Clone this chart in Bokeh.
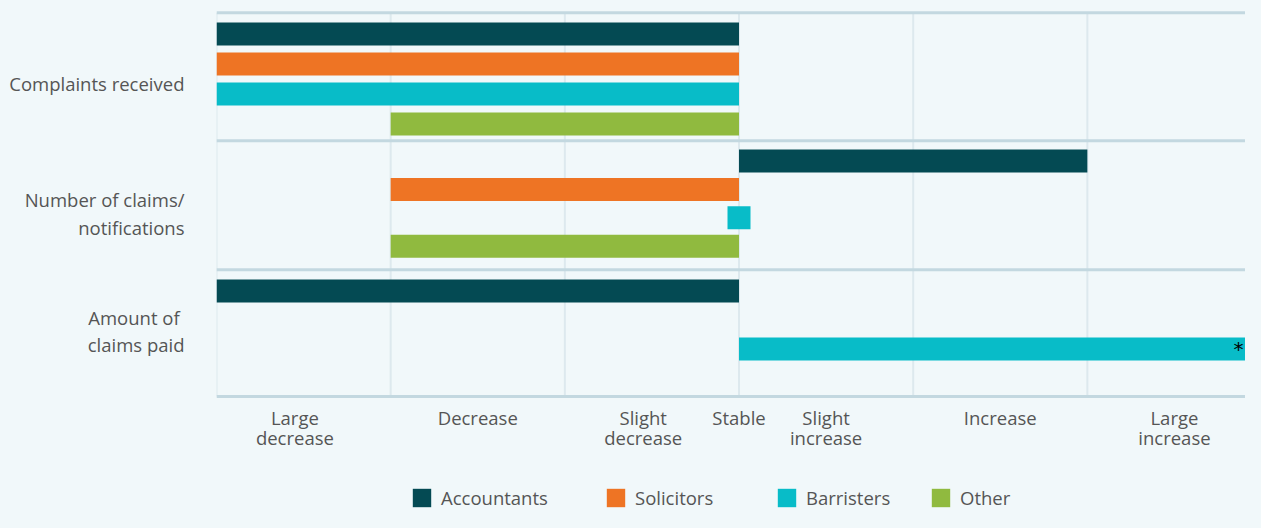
from bokeh.plotting import figure
from bokeh.models import Range1d, FixedTicker, Span, Legend, LegendItem, Label, ColumnDataSource
from bokeh.core.properties import value
from bokeh.embed import file_html
from bokeh.resources import INLINE

# ---------------- data ----------------
measures = ["Complaints received", "Number of claims/\nnotifications", "Amount of \nclaims paid"]
series = ["Accountants", "Solicitors", "Barristers", "Other"]
# change scale: -3 large decrease, -2 decrease, -1 slight decrease, 0 stable,
# +1 slight increase, +2 increase, +3 large increase ; None = no answer
accountants = [-3, 2, -3]
solicitors = [-3, -2, None]
barristers = [-3, 0, 3]
other = [-2, -2, None]
scale_labels = ["Large\ndecrease", "Decrease", "Slight\ndecrease", "Stable",
                "Slight\nincrease", "Increase", "Large\nincrease"]
scale_label_pos = [-2.55, -1.5, -0.55, 0, 0.5, 1.5, 2.5]
scale_grid = [-3, -2, -1, 0, 1, 2, 3]
note_series, note_measure, note_text = 2, 2, "*"

colors = ["#044a53", "#ee7424", "#08bcc8", "#90ba3f"]
BG = "#f1f8fa"
TXT = "#555555"
FONT = "Open Sans"
FS = "18.5px"

# ---------------- layout (screen-like y units) ----------------
separators = [12.3, 140.3, 269.3, 396]
first_center = [33.5, 160.5, 290.5]
step = [30, 28.4, 29]
label_y = [83, 213, 330.5]
BAR_H = 23
PX_PER_UNIT = 174.17
W, H = 1245, 512
LEFT = 216
frame_w = W - LEFT

p = figure(width=W, height=H, output_backend="svg", toolbar_location=None,
           x_range=Range1d(-3, -3 + frame_w / PX_PER_UNIT),
           y_range=Range1d(H, 0),
           min_border_left=LEFT, min_border_right=0, min_border_top=0, min_border_bottom=0)
p.background_fill_color = BG
p.border_fill_color = BG
p.outline_line_color = None
p.xaxis.visible = False
p.grid.visible = False

# vertical grid lines between first and last separator
p.segment(x0=scale_grid, x1=scale_grid, y0=[separators[0]] * len(scale_grid),
          y1=[separators[-1]] * len(scale_grid), line_color="#dde9ee", line_width=2)

values = [accountants, solicitors, barristers, other]
renderers = []
for s, (name, vals, col) in enumerate(zip(series, values, colors)):
    bars = dict(y=[], left=[], right=[])
    pts = dict(x=[], y=[])
    for g, v in enumerate(vals):
        if v is None:
            continue
        yc = first_center[g] + step[g] * s
        if v == 0:
            pts["x"].append(v); pts["y"].append(yc)
        else:
            bars["y"].append(yc); bars["left"].append(min(v, 0)); bars["right"].append(max(v, 0))
    r = p.hbar(y="y", left="left", right="right", height=BAR_H, source=ColumnDataSource(bars),
               fill_color=col, line_color=None)
    if pts["x"]:
        p.scatter(x="x", y="y", source=ColumnDataSource(pts), marker="square", size=BAR_H,
                  fill_color=col, line_color=None)
    renderers.append(r)

for sy in separators:
    p.add_layout(Span(location=sy, dimension="width", line_color="#c3d8e0", line_width=3))

# scale labels under the chart
p.text(x=scale_label_pos, y=[separators[-1] + 8] * len(scale_label_pos), text=scale_labels,
       text_align="center", text_baseline="top", text_font=value(FONT), text_font_size=value(FS),
       text_color=TXT, text_line_height=0.81)

# star note
nv = values[note_series][note_measure]
p.add_layout(Label(x=nv, y=first_center[note_measure] + step[note_measure] * note_series,
                   x_offset=-18, y_offset=0, text=note_text, text_align="right", text_baseline="middle",
                   text_font="DejaVu Sans", text_font_size="20px", text_color="black"))

# y axis
ya = p.yaxis[0]
ya.ticker = FixedTicker(ticks=label_y)
ya.major_label_overrides = {pos: lab for pos, lab in zip(label_y, measures)}
ya.axis_line_color = None
ya.major_tick_line_color = None
ya.minor_tick_line_color = None
ya.major_tick_out = 0
ya.major_tick_in = 0
ya.major_label_standoff = 32
ya.major_label_text_font = FONT
ya.major_label_text_font_size = FS
ya.major_label_text_color = TXT
ya.major_label_text_line_height = 1.11

# legends, one per series
legend_x = [194, 388, 559, 713]
for name, r, lx in zip(series, renderers, legend_x):
    lg = Legend(items=[LegendItem(label=name, renderers=[r])], location=(lx, 2),
                orientation="horizontal", glyph_width=23, glyph_height=23, label_standoff=8,
                padding=0, margin=0, border_line_color=None, background_fill_alpha=0,
                label_text_font=FONT, label_text_font_size=FS, label_text_color=TXT)
    p.add_layout(lg)

html = file_html(p, INLINE)
html = html.replace("<head>", "<head><style>html,body{background:%s;}</style>" % BG, 1)
open("out.html", "w").write(html)
